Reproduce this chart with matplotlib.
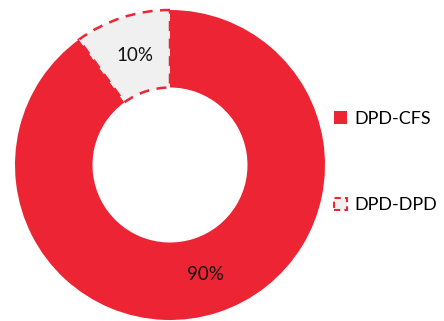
import matplotlib
matplotlib.use("Agg")
import matplotlib.pyplot as plt
from matplotlib.patches import Patch

labels = ["DPD-CFS", "DPD-DPD"]
values = [90, 10]
colors = ["#EC2434", "#F0F0F0"]

plt.rcParams['font.family'] = ['Lato', 'DejaVu Sans']

fig = plt.figure(figsize=(4.44, 3.21), dpi=100)
W, H = 444, 321
cx, cy, R = 170, 165, 155
ax = fig.add_axes([(cx - R) / W, (H - cy - R) / H, 2 * R / W, 2 * R / H])

wedges, texts, autotexts = ax.pie(
    values, colors=colors, startangle=90, counterclock=False,
    autopct=lambda p: f"{p:.0f}%", pctdistance=0.74,
    wedgeprops=dict(width=0.5), textprops=dict(fontsize=13.5, color="#111111"))
wedges[1].set_edgecolor("#EC2434")
wedges[1].set_linestyle((0, (4, 3)))
wedges[1].set_linewidth(1.8)
wedges[0].set_edgecolor("none")
ax.set_xlim(-1, 1)
ax.set_ylim(-1, 1)
ax.set_aspect("equal")

handles = [Patch(facecolor=colors[0], edgecolor="none"),
           Patch(facecolor=colors[1], edgecolor="#EC2434", linestyle=(0, (3, 2)), linewidth=1.5)]
fig.legend(handles, labels, loc="center left", bbox_to_anchor=(318 / W, (H - 162) / H),
           frameon=False, fontsize=13, handlelength=0.7, handleheight=0.7,
           handletextpad=0.4, labelspacing=3.9)

fig.savefig("out.png", dpi=100)
